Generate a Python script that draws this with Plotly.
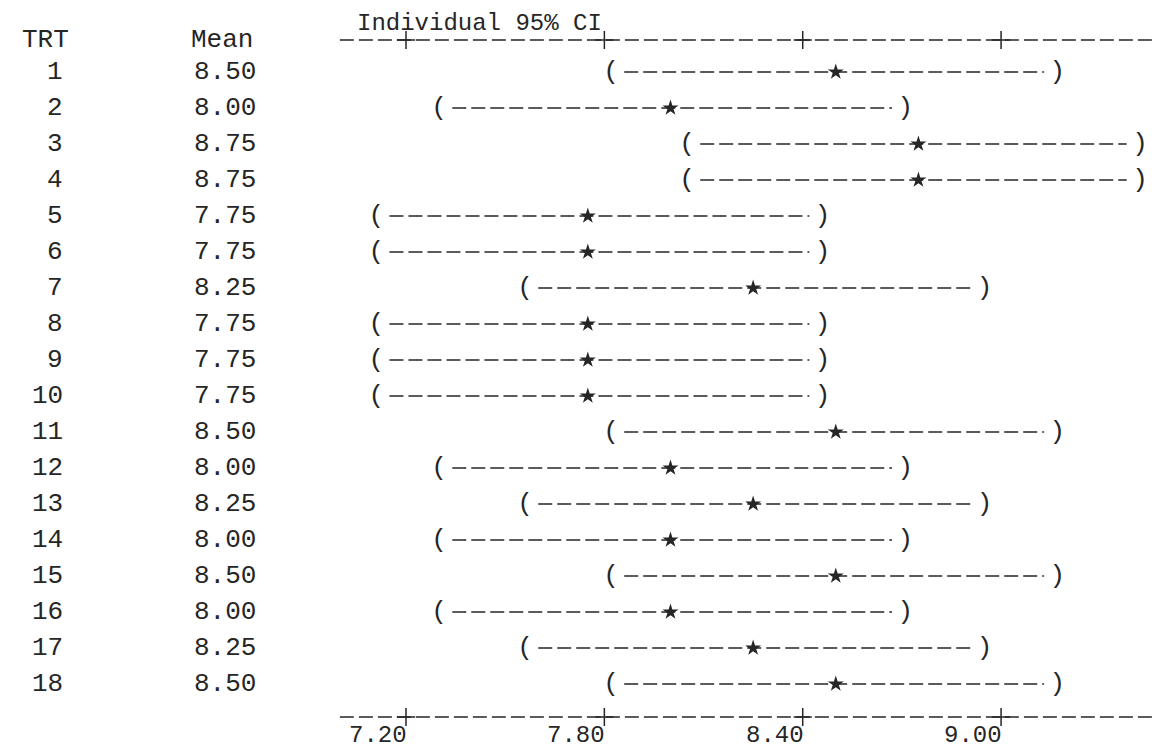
import plotly.graph_objects as go

# ---- data ----
trt_labels = [str(i) for i in range(1, 19)]
means = [8.50, 8.00, 8.75, 8.75, 7.75, 7.75, 8.25, 7.75, 7.75, 7.75,
         8.50, 8.00, 8.25, 8.00, 8.50, 8.00, 8.25, 8.50]
mean_labels = ["8.50", "8.00", "8.75", "8.75", "7.75", "7.75", "8.25", "7.75", "7.75",
               "7.75", "8.50", "8.00", "8.25", "8.00", "8.50", "8.00", "8.25", "8.50"]
lower = [7.82, 7.30, 8.05, 8.05, 7.11, 7.11, 7.56, 7.11, 7.11, 7.11,
         7.82, 7.30, 7.56, 7.30, 7.82, 7.30, 7.56, 7.82]
upper = [9.17, 8.71, 9.42, 9.42, 8.46, 8.46, 8.95, 8.46, 8.46, 8.46,
         9.17, 8.71, 8.95, 8.71, 9.17, 8.71, 8.95, 9.17]
tick_vals = [7.2, 7.8, 8.4, 9.0]
tick_text = ["7.20", "7.80", "8.40", "9.00"]

# ---- styles / layout constants ----
W, H = 1164, 749
MT, MB = 32, 40
PH = H - MT - MB
ROW1, ROWSTEP = 64, 36.0          # pixel centre of row 1, row pitch
FONT = "Liberation Mono"
FS = 26
INK = "#262626"
DASH = "14px,5px"
PXU = 330.6                       # pixels per unit on the CI scale
X0 = 7.2 - 398 / PXU
X1 = 7.2 + (W - 398) / PXU
PAD = 0.04
Y_TOP = 1 - (ROW1 - MT) / ROWSTEP
Y_BOT = 1 + (H - MB - ROW1) / ROWSTEP

rows = list(range(1, len(means) + 1))

fig = go.Figure()

# CI dashed lines
xs, ys = [], []
for lo, hi, r in zip(lower, upper, rows):
    xs += [lo + PAD, hi - PAD, None]
    ys += [r, r, None]
fig.add_trace(go.Scatter(x=xs, y=ys, mode="lines",
                         line=dict(color=INK, width=1.3, dash=DASH),
                         hoverinfo="skip", showlegend=False))

# parentheses at interval ends
fig.add_trace(go.Scatter(x=lower + upper, y=rows + rows, mode="text",
                         text=["("] * len(lower) + [")"] * len(upper),
                         textposition="middle center",
                         textfont=dict(family=FONT, size=FS, color=INK),
                         hoverinfo="skip", showlegend=False))

# means
fig.add_trace(go.Scatter(x=means, y=rows, mode="markers",
                         marker=dict(symbol="star", size=12, color=INK,
                                     line=dict(width=0)),
                         showlegend=False))

# "+" tick marks on top and bottom scale lines
fig.add_trace(go.Scatter(x=tick_vals + tick_vals,
                         y=[Y_TOP] * len(tick_vals) + [Y_BOT] * len(tick_vals),
                         mode="markers", cliponaxis=False,
                         marker=dict(symbol="cross-thin", size=13,
                                     line=dict(color=INK, width=1.5)),
                         hoverinfo="skip", showlegend=False))

shapes = []
for yp in (0, 1):
    shapes.append(dict(type="line", xref="x", yref="paper", x0=7.0, x1=X1,
                       y0=yp, y1=yp, line=dict(color=INK, width=1.3, dash=DASH)))

ann = []
ann.append(dict(text="Individual 95% CI", xref="paper", yref="paper",
                x=347 / W, y=1 + MT / PH, xanchor="left", yanchor="top",
                showarrow=False, font=dict(family=FONT, size=24, color=INK)))
ann.append(dict(text="TRT", xref="paper", yref="paper", x=12 / W, y=1,
                xanchor="left", yanchor="middle", showarrow=False,
                font=dict(family=FONT, size=FS, color=INK)))
ann.append(dict(text="Mean", xref="paper", yref="paper", x=181 / W, y=1,
                xanchor="left", yanchor="middle", showarrow=False,
                font=dict(family=FONT, size=FS, color=INK)))
for lab, ml, r in zip(trt_labels, mean_labels, rows):
    ann.append(dict(text=lab, xref="paper", yref="y", x=57 / W, y=r,
                    xanchor="right", yanchor="middle", showarrow=False,
                    font=dict(family=FONT, size=FS, color=INK)))
    ann.append(dict(text=ml, xref="paper", yref="y", x=184 / W, y=r,
                    xanchor="left", yanchor="middle", showarrow=False,
                    font=dict(family=FONT, size=FS, color=INK)))
# scale labels under the bottom scale line
for tv, tt in zip(tick_vals, tick_text):
    ann.append(dict(text=tt, xref="x", yref="paper", x=tv, y=0,
                    xanchor="center", yanchor="top", xshift=-28, yshift=-3,
                    showarrow=False, font=dict(family=FONT, size=24, color=INK)))

fig.update_layout(
    width=W, height=H,
    margin=dict(l=0, r=0, t=MT, b=MB),
    paper_bgcolor="white", plot_bgcolor="white",
    shapes=shapes, annotations=ann,
    xaxis=dict(range=[X0, X1], tickvals=tick_vals, showticklabels=False,
               ticks="", showline=False, showgrid=False, zeroline=False,
               fixedrange=True),
    yaxis=dict(range=[Y_BOT, Y_TOP], visible=False, fixedrange=True),
    showlegend=False,
)

fig.write_html("out.html")
